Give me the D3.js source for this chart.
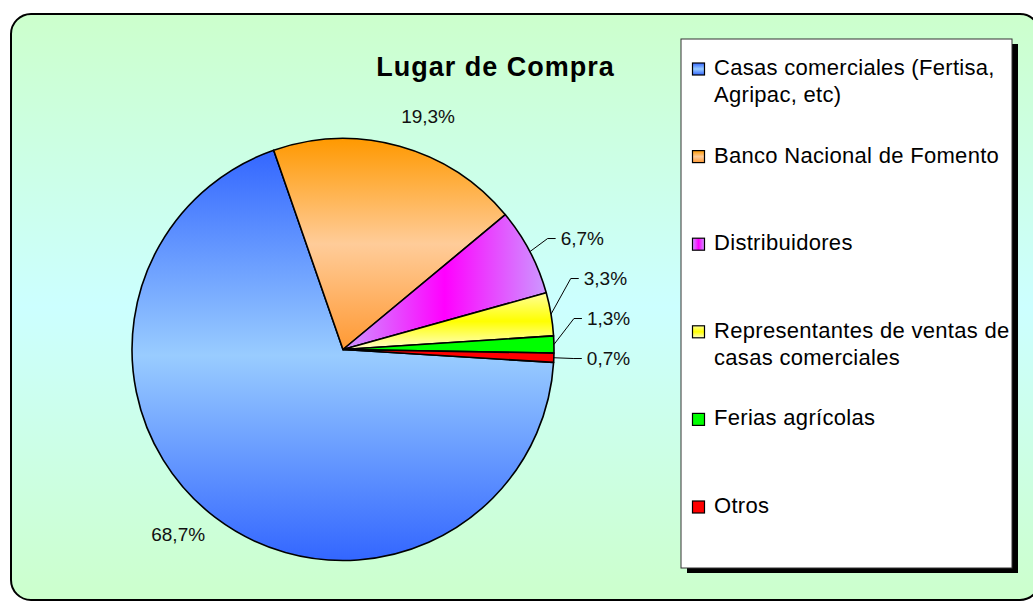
<!DOCTYPE html>
<html>
<head>
<meta charset="utf-8">
<script src="https://cdn.jsdelivr.net/npm/d3@7"></script>
<style>
  body { margin: 0; background: #fff; }
  svg text { font-family: "Liberation Sans", Arial, sans-serif; }
</style>
</head>
<body>
<div id="chart"></div>
<script>
"use strict"

// chart data
const chartTitle = "Lugar de Compra";
const categories = ["Casas comerciales (Fertisa, Agripac, etc)",
                    "Banco Nacional de Fomento",
                    "Distribuidores",
                    "Representantes de ventas de casas comerciales",
                    "Ferias agrícolas",
                    "Otros"];
const values = [68.7, 19.3, 6.7, 3.3, 1.3, 0.7];

// slice fills: gradient direction and colour stops
const fills = [
  {dir: "v", stops: ["#3366ff", "#99ccff", "#3366ff"]},
  {dir: "v", stops: ["#ff9900", "#ffcc99", "#ff9933"]},
  {dir: "h", stops: ["#cc99ff", "#ff00ff", "#cc99ff"]},
  {dir: "v", stops: ["#ffff99", "#ffff00", "#ffffcc"]},
  {dir: "v", stops: ["#00ff00", "#00ff00", "#00ff00"]},
  {dir: "v", stops: ["#ff0000", "#ff0000", "#ff0000"]}
];

const width = 1033, height = 601;
const pieCfg = {cx: 343, cy: 349.5, r: 211, firstAngle: 93.5};
const legendBox = {x: 681, y: 39, width: 331, height: 529};

const locale = d3.formatLocale({decimal: ",", thousands: ".", grouping: [3], currency: ["", ""]});
const pct = locale.format(".1f");

const svg = d3.select("#chart").append("svg")
    .attr("width", width)
    .attr("height", height);
const defs = svg.append("defs");

// background gradient
const bg = defs.append("linearGradient")
    .attr("id", "bg")
    .attr("x1", 0).attr("y1", 0).attr("x2", 0).attr("y2", 1);
bg.selectAll("stop")
  .data(["#ccffcc", "#ccffff", "#ccffcc"])
  .enter().append("stop")
    .attr("offset", (d, i) => i / 2)
    .attr("stop-color", d => d);

// slice gradients
fills.forEach(function(f, i) {
  const g = defs.append("linearGradient")
      .attr("id", "fill" + i)
      .attr("x1", 0).attr("y1", 0)
      .attr("x2", f.dir == "h" ? 1 : 0)
      .attr("y2", f.dir == "h" ? 0 : 1);
  g.selectAll("stop")
    .data(f.stops)
    .enter().append("stop")
      .attr("offset", (d, j) => j / (f.stops.length - 1))
      .attr("stop-color", d => d);
});

// chart area with rounded border
svg.append("rect")
    .attr("x", 11).attr("y", 14)
    .attr("width", 1029).attr("height", 586)
    .attr("rx", 20).attr("ry", 20)
    .attr("fill", "url(#bg)")
    .attr("stroke", "#000")
    .attr("stroke-width", 2);

// title
svg.append("text")
    .attr("x", 495.5)
    .attr("y", 76)
    .attr("text-anchor", "middle")
    .attr("font-size", 27)
    .attr("font-weight", "bold")
    .attr("letter-spacing", 1)
    .text(chartTitle);

// pie
const toRad = Math.PI / 180;
const a0 = pieCfg.firstAngle * toRad;
const pie = d3.pie().sort(null).startAngle(a0).endAngle(a0 + 2 * Math.PI);
const arcs = pie(values);
const arc = d3.arc().innerRadius(0).outerRadius(pieCfg.r);

const pieLayer = svg.append("g")
    .attr("transform", "translate(" + pieCfg.cx + "," + pieCfg.cy + ")");

pieLayer.selectAll(".slice")
  .data(arcs)
  .enter().append("path")
    .attr("class", "slice")
    .attr("d", arc)
    .attr("fill", (d, i) => "url(#fill" + i + ")")
    .attr("stroke", "#000")
    .attr("stroke-width", 1.6)
    .attr("stroke-linejoin", "round");

// point on a circle of radius rr at angle a (clockwise from north)
function polar(a, rr) {
  return [rr * Math.sin(a), -rr * Math.cos(a)];
}
function midAngle(d) { return (d.startAngle + d.endAngle) / 2; }

// big slices: labels outside without leader
const big = arcs.filter(d => d.data >= 10);
pieLayer.selectAll(".big-label")
  .data(big)
  .enter().append("text")
    .attr("class", "big-label")
    .attr("x", d => polar(midAngle(d) + 4.5 * toRad, 248)[0])
    .attr("y", d => polar(midAngle(d) + 4.5 * toRad, 248)[1])
    .attr("dy", "0.35em")
    .attr("text-anchor", "middle")
    .attr("font-size", 19)
    .attr("fill", "#111")
    .text(d => pct(d.data) + "%");

// small slices: labels with leader lines, pushed apart from the bottom up
const small = arcs.filter(d => d.data < 10).map(function(d) {
  const e = polar(midAngle(d), pieCfg.r + 20);
  return {d: d, edge: polar(midAngle(d), pieCfg.r), ex: e[0], ey: e[1]};
});
for (let i = small.length - 2; i >= 0; i--) {
  small[i].ey = Math.min(small[i].ey, small[i + 1].ey - 40);
}
const smallItems = pieLayer.selectAll(".small-label")
  .data(small)
  .enter().append("g")
    .attr("class", "small-label");
smallItems.append("polyline")
    .attr("points", s => [s.edge, [s.ex, s.ey], [s.ex + 8, s.ey]].map(p => p.join(",")).join(" "))
    .attr("fill", "none")
    .attr("stroke", "#000")
    .attr("stroke-width", 1);
smallItems.append("text")
    .attr("x", s => s.ex + 13)
    .attr("y", s => s.ey)
    .attr("dy", "0.35em")
    .attr("font-size", 19)
    .attr("fill", "#111")
    .text(s => pct(s.d.data) + "%");

// legend box with shadow
const legend = svg.append("g").attr("class", "legend");
legend.append("rect")
    .attr("x", legendBox.x + 6).attr("y", legendBox.y + 5)
    .attr("width", legendBox.width).attr("height", legendBox.height)
    .attr("fill", "#000");
legend.append("rect")
    .attr("x", legendBox.x).attr("y", legendBox.y)
    .attr("width", legendBox.width).attr("height", legendBox.height)
    .attr("fill", "#fff")
    .attr("stroke", "#333")
    .attr("stroke-width", 1);

const legendY = d3.scalePoint().domain(categories).range([75, 513]);
const items = legend.selectAll(".legend-item")
  .data(categories)
  .enter().append("g")
    .attr("class", "legend-item")
    .attr("transform", d => "translate(" + (legendBox.x + 11) + "," + legendY(d) + ")");
items.append("rect")
    .attr("x", 0.5).attr("y", -12)
    .attr("width", 12).attr("height", 12)
    .attr("fill", (d, i) => "url(#fill" + i + ")")
    .attr("stroke", "#000")
    .attr("stroke-width", 1.2);
items.append("text")
    .attr("x", 22)
    .attr("font-size", 22)
    .attr("letter-spacing", 0.3)
    .each(function(d) { wrap(d3.select(this), d, 306, 27); });

// wrap text into tspans that fit maxWidth
function wrap(text, str, maxWidth, lineHeight) {
  const words = str.split(" ");
  let line = [], lineNo = 0;
  let tspan = text.append("tspan").attr("x", 22).attr("y", 0);
  words.forEach(function(w) {
    line.push(w);
    tspan.text(line.join(" "));
    if (tspan.node().getComputedTextLength() > maxWidth && line.length > 1) {
      line.pop();
      tspan.text(line.join(" "));
      line = [w];
      lineNo++;
      tspan = text.append("tspan").attr("x", 22).attr("y", lineNo * lineHeight).text(w);
    }
  });
}
</script>
</body>
</html>
